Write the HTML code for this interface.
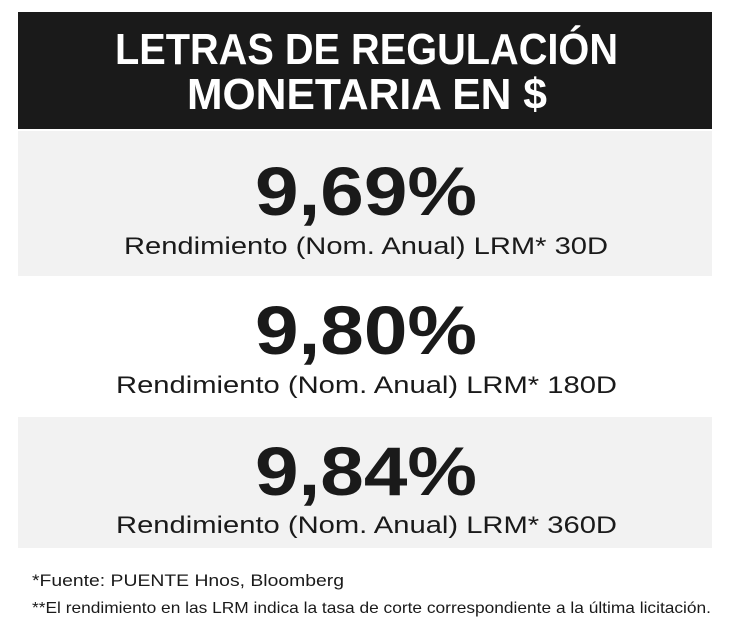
<!DOCTYPE html>
<html><head><meta charset="utf-8"><style>
html,body{margin:0;padding:0;background:#fff;}
svg{display:block}
text{font-family:"Liberation Sans",sans-serif;}
</style></head><body>
<svg width="730" height="634" viewBox="0 0 730 634">
<rect x="0" y="0" width="730" height="634" fill="#fff"/>
<rect x="18" y="12" width="694" height="117" fill="#1a1a1a"/>
<rect x="18" y="131" width="694" height="145" fill="#f2f2f2"/>
<rect x="18" y="417" width="694" height="131" fill="#f2f2f2"/>
<g fill="#fff" font-weight="bold" font-size="44">
<text x="115" y="64" textLength="503" lengthAdjust="spacingAndGlyphs">LETRAS DE REGULACIÓN</text>
<text x="187" y="109" textLength="360" lengthAdjust="spacingAndGlyphs">MONETARIA EN $</text>
</g>
<g fill="#1a1a1a" font-weight="bold" font-size="69">
<text x="255" y="215" textLength="222" lengthAdjust="spacingAndGlyphs">9,69%</text>
<text x="255" y="354" textLength="222" lengthAdjust="spacingAndGlyphs">9,80%</text>
<text x="255" y="495" textLength="222" lengthAdjust="spacingAndGlyphs">9,84%</text>
</g>
<g fill="#1a1a1a" font-size="24">
<text x="124" y="254" textLength="484" lengthAdjust="spacingAndGlyphs">Rendimiento (Nom. Anual) LRM* 30D</text>
<text x="116" y="393" textLength="501" lengthAdjust="spacingAndGlyphs">Rendimiento (Nom. Anual) LRM* 180D</text>
<text x="116" y="533" textLength="501" lengthAdjust="spacingAndGlyphs">Rendimiento (Nom. Anual) LRM* 360D</text>
</g>
<g fill="#1a1a1a" font-size="17">
<text x="32" y="586" textLength="312" lengthAdjust="spacingAndGlyphs">*Fuente: PUENTE Hnos, Bloomberg</text>
<text x="32" y="613" font-size="16" textLength="679" lengthAdjust="spacingAndGlyphs">**El rendimiento en las LRM indica la tasa de corte correspondiente a la última licitación.</text>
</g>
</svg>
</body></html>
